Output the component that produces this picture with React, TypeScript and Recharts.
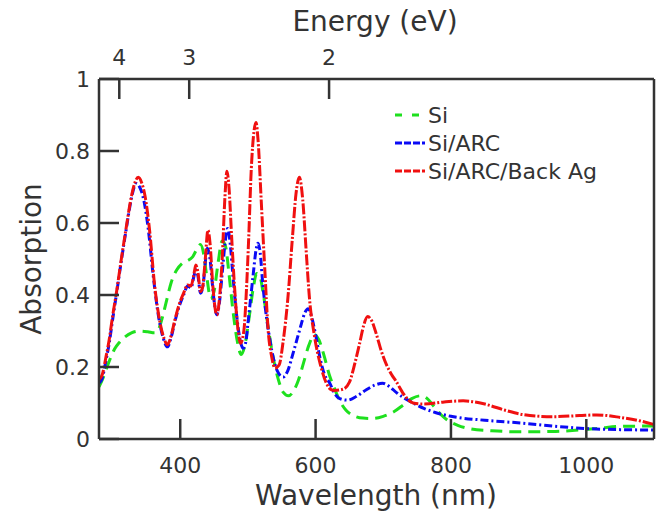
import React from 'react';
import { LineChart, Line, XAxis, YAxis } from 'recharts';

// ---- Data ----
const siWavelength = [280, 285, 290, 297, 303, 310, 318, 328, 340, 352, 362, 368, 374, 380, 387, 395, 403, 410, 418, 424, 430, 435, 440, 445, 450, 456, 462, 467, 472, 478, 484, 490, 496, 502, 508, 513, 518, 523, 530, 537, 545, 552, 560, 568, 575, 582, 590, 598, 605, 612, 620, 628, 636, 645, 655, 670, 685, 700, 715, 730, 742, 755, 765, 775, 785, 795, 810, 830, 860, 900, 950, 990, 1020, 1050, 1100];
const siAbsorption = [0.145, 0.165, 0.19, 0.225, 0.25, 0.268, 0.283, 0.295, 0.3, 0.298, 0.295, 0.305, 0.34, 0.386, 0.437, 0.47, 0.488, 0.495, 0.505, 0.525, 0.54, 0.51, 0.44, 0.39, 0.41, 0.49, 0.55, 0.535, 0.46, 0.355, 0.275, 0.235, 0.265, 0.34, 0.42, 0.46, 0.45, 0.4, 0.31, 0.23, 0.165, 0.13, 0.12, 0.135, 0.165, 0.21, 0.26, 0.29, 0.275, 0.235, 0.18, 0.14, 0.105, 0.08, 0.066, 0.058, 0.057, 0.063, 0.075, 0.095, 0.112, 0.12, 0.112, 0.09, 0.068, 0.052, 0.038, 0.028, 0.023, 0.02, 0.021, 0.025, 0.03, 0.035, 0.036];

const arcWavelength = [280, 285, 290, 295, 300, 306, 313, 320, 327, 332, 335, 340, 346, 353, 360, 368, 375, 381, 387, 392, 397, 405, 411, 416, 420, 423, 426, 430, 434, 437, 440, 444, 448, 451, 454, 458, 462, 466, 470, 474, 478, 483, 488, 493, 497, 500, 504, 508, 512, 515, 518, 522, 526, 530, 537, 544, 552, 559, 567, 573, 579, 584, 589, 594, 600, 606, 613, 621, 628, 635, 647, 660, 675, 688, 699, 709, 720, 730, 744, 760, 778, 800, 850, 906, 950, 1000, 1050, 1100];
const arcAbsorption = [0.155, 0.17, 0.215, 0.265, 0.33, 0.405, 0.495, 0.58, 0.66, 0.7, 0.71, 0.7, 0.665, 0.58, 0.455, 0.34, 0.28, 0.256, 0.285, 0.325, 0.36, 0.4, 0.425, 0.42, 0.45, 0.47, 0.455, 0.405, 0.43, 0.49, 0.53, 0.5, 0.42, 0.37, 0.345, 0.38, 0.46, 0.54, 0.585, 0.54, 0.45, 0.35, 0.28, 0.252, 0.27, 0.32, 0.39, 0.46, 0.525, 0.544, 0.52, 0.43, 0.36, 0.305, 0.23, 0.187, 0.172, 0.19, 0.24, 0.28, 0.32, 0.35, 0.362, 0.34, 0.29, 0.23, 0.18, 0.155, 0.127, 0.113, 0.108, 0.118, 0.137, 0.15, 0.155, 0.146, 0.128, 0.115, 0.1, 0.085, 0.073, 0.063, 0.052, 0.044, 0.036, 0.029, 0.026, 0.025];

const agWavelength = [280, 285, 290, 295, 300, 306, 313, 320, 328, 333, 338, 343, 348, 355, 362, 370, 376, 381, 387, 392, 397, 405, 411, 416, 420, 423, 426, 430, 433, 437, 441, 444, 448, 451, 454, 458, 462, 466, 469, 472, 476, 480, 485, 489, 494, 498, 501, 505, 509, 512, 515, 520, 525, 530, 535, 540, 546, 552, 559, 566, 571, 576, 581, 586, 591, 598, 608, 616, 623, 628, 640, 650, 658, 665, 671, 677, 683, 690, 697, 705, 712, 719, 730, 744, 760, 790, 818, 850, 880, 906, 950, 990, 1015, 1050, 1080, 1100];
const agAbsorption = [0.165, 0.18, 0.225, 0.275, 0.34, 0.41, 0.5, 0.585, 0.675, 0.712, 0.727, 0.712, 0.675, 0.575, 0.43, 0.325, 0.28, 0.262, 0.29, 0.33, 0.365, 0.405, 0.428, 0.425, 0.455, 0.483, 0.465, 0.41, 0.42, 0.5, 0.58, 0.545, 0.43, 0.37, 0.345, 0.39, 0.5, 0.67, 0.744, 0.7, 0.56, 0.43, 0.31, 0.266, 0.3, 0.42, 0.55, 0.75, 0.855, 0.879, 0.83, 0.65, 0.47, 0.3, 0.23, 0.197, 0.205, 0.27, 0.39, 0.565, 0.68, 0.727, 0.665, 0.525, 0.39, 0.29, 0.2, 0.155, 0.137, 0.135, 0.138, 0.158, 0.21, 0.265, 0.315, 0.34, 0.328, 0.29, 0.245, 0.205, 0.18, 0.16, 0.125, 0.1, 0.097, 0.103, 0.106, 0.097, 0.08, 0.068, 0.062, 0.065, 0.067, 0.06, 0.05, 0.04];

const wavelengthTicks = [400, 600, 800, 1000];
const energyTicks = [4, 3, 2];
const absorptionTicks = [0, 0.2, 0.4, 0.6, 0.8, 1];
const seriesNames = ['Si', 'Si/ARC', 'Si/ARC/Back Ag'];
const seriesColors = ['#1ee01e', '#0a0af5', '#f01010'];
const seriesDash = ['12 7', '8 3 2 3', '11 2 2 2'];

const HC = 1239.84; // eV*nm

const toSeries = (w: number[], a: number[]) => w.map((x, i) => ({ w: x, a: a[i] }));
const siData = toSeries(siWavelength, siAbsorption);
const arcData = toSeries(arcWavelength, arcAbsorption);
const agData = toSeries(agWavelength, agAbsorption);
const energyTickPositions = energyTicks.map((e) => HC / e);

const AXIS = '#333333';
const FONT = '"DejaVu Sans", Verdana, sans-serif';

export default function App() {
  const tickStyle = { fill: AXIS, fontSize: 22, fontFamily: FONT };
  return (
    <div style={{ position: 'absolute', left: 0, top: 0, width: 663, height: 518, background: '#fff', fontFamily: FONT }}>
      <LineChart width={663} height={518} margin={{ top: 0, right: 0, bottom: 0, left: 0 }}>
        <XAxis
          xAxisId="bottom"
          dataKey="w"
          type="number"
          orientation="bottom"
          domain={[280, 1100]}
          allowDataOverflow
          ticks={wavelengthTicks}
          height={79}
          tickSize={-20}
          tickMargin={38}
          axisLine={{ stroke: AXIS, strokeWidth: 2.5 }}
          tickLine={{ stroke: AXIS, strokeWidth: 2.5 }}
          tick={tickStyle}
          label={{
            content: () => (
              <text x={376} y={505} textAnchor="middle" fill={AXIS} fontSize={28} fontFamily={FONT}>
                Wavelength (nm)
              </text>
            ),
          }}
        />
        <XAxis
          xAxisId="top"
          dataKey="w"
          type="number"
          orientation="top"
          domain={[280, 1100]}
          allowDataOverflow
          ticks={energyTickPositions}
          tickFormatter={(v: number) => String(Math.round(HC / v))}
          height={79}
          tickSize={-20}
          tickMargin={34}
          axisLine={{ stroke: AXIS, strokeWidth: 2.5 }}
          tickLine={{ stroke: AXIS, strokeWidth: 2.5 }}
          tick={tickStyle}
          label={{
            content: () => (
              <text x={375} y={31} textAnchor="middle" fill={AXIS} fontSize={28} fontFamily={FONT}>
                Energy (eV)
              </text>
            ),
          }}
        />
        <YAxis
          yAxisId="left"
          type="number"
          domain={[0, 1]}
          allowDataOverflow
          ticks={absorptionTicks}
          width={99}
          tickSize={-20}
          tickMargin={29}
          tickFormatter={(v: number) => String(v)}
          axisLine={{ stroke: AXIS, strokeWidth: 2.5 }}
          tickLine={{ stroke: AXIS, strokeWidth: 2.5 }}
          tick={tickStyle}
          label={{
            content: () => (
              <text x={41} y={259} transform="rotate(-90 41 259)" textAnchor="middle" fill={AXIS} fontSize={28} fontFamily={FONT}>
                Absorption
              </text>
            ),
          }}
        />
        <YAxis
          yAxisId="right"
          orientation="right"
          type="number"
          domain={[0, 1]}
          allowDataOverflow
          ticks={absorptionTicks}
          width={9}
          tickSize={-20}
          tick={false}
          axisLine={{ stroke: AXIS, strokeWidth: 2.5 }}
          tickLine={{ stroke: AXIS, strokeWidth: 2.5 }}
        />
        <Line
          xAxisId="bottom"
          yAxisId="left"
          data={siData}
          dataKey="a"
          name={seriesNames[0]}
          type="monotone"
          stroke={seriesColors[0]}
          strokeWidth={3}
          strokeDasharray={seriesDash[0]}
          dot={false}
          activeDot={false}
          isAnimationActive={false}
        />
        <Line
          xAxisId="bottom"
          yAxisId="left"
          data={arcData}
          dataKey="a"
          name={seriesNames[1]}
          type="monotone"
          stroke={seriesColors[1]}
          strokeWidth={3}
          strokeDasharray={seriesDash[1]}
          dot={false}
          activeDot={false}
          isAnimationActive={false}
        />
        <Line
          xAxisId="bottom"
          yAxisId="left"
          data={agData}
          dataKey="a"
          name={seriesNames[2]}
          type="monotone"
          stroke={seriesColors[2]}
          strokeWidth={3}
          strokeDasharray={seriesDash[2]}
          dot={false}
          activeDot={false}
          isAnimationActive={false}
        />
      </LineChart>
      <svg style={{ position: 'absolute', left: 390, top: 98 }} width={260} height={90}>
        {seriesNames.map((n, i) => (
          <g key={n}>
            <line x1={5} x2={35} y1={17 + i * 28} y2={17 + i * 28} stroke={seriesColors[i]} strokeWidth={3} strokeDasharray={i === 0 ? '7 10' : '7 2'} />
            <text x={38} y={17 + i * 28} dominantBaseline="central" fill={AXIS} fontSize={22} fontFamily={FONT}>
              {n}
            </text>
          </g>
        ))}
      </svg>
    </div>
  );
}
